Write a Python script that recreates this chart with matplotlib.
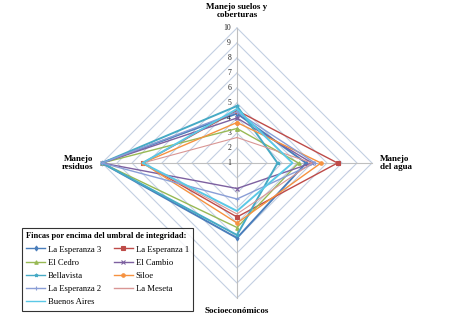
import numpy as np
import matplotlib
matplotlib.use("Agg")
import matplotlib.pyplot as plt

# ejes del radar (en sentido horario desde arriba)
axes_names = ["Manejo suelos y\ncoberturas", "Manejo\ndel agua", "Socioeconómicos", "Manejo\nresiduos"]

fincas = ["La Esperanza 3", "La Esperanza 1", "El Cedro", "El Cambio", "Bellavista",
          "Siloe", "La Esperanza 2", "La Meseta", "Buenos Aires"]

suelos = [4.3, 4.5, 3.3, 4.0, 4.8, 3.7, 4.4, 2.7, 4.6]
agua = [5.6, 7.7, 5.1, 6.0, 3.7, 6.6, 6.2, 6.0, 4.7]
socio = [6.0, 4.6, 5.3, 2.7, 5.8, 5.0, 3.4, 4.4, 4.2]
residuos = [10, 7.3, 10, 10, 10, 7.3, 10, 7.3, 7.3]

levels = [1, 2, 3, 4, 5, 6, 7, 8, 9, 10]

colors = ["#4A7EBB", "#BE4B48", "#98B954", "#7D60A0", "#46AAC5",
          "#F69240", "#8A9ED6", "#D99694", "#5BC8E6"]
markers = ["d", "s", "^", "x", "*", "o", "+", "", ""]
widths = [1.4, 1.0, 1.0, 1.0, 1.4, 1.0, 1.0, 0.8, 1.4]

rmin = 1
angles = np.pi / 2 - np.arange(4) * np.pi / 2


def to_xy(vals):
    r = np.array(list(vals) + [vals[0]], dtype=float) - rmin
    a = np.append(angles, angles[0])
    return r * np.cos(a), r * np.sin(a)


fig = plt.figure(figsize=(4.74, 3.26), dpi=100)
ax = fig.add_axes([87 / 474, 13 / 326, 300 / 474, 300 / 326])
ax.set_xlim(-10, 10)
ax.set_ylim(-10, 10)
ax.axis("off")

# rejilla en rombo
for lv in levels[1:]:
    gx, gy = to_xy([lv] * 4)
    ax.plot(gx, gy, color="#C3CFE2", lw=0.8, zorder=1)
for a in angles:
    ax.plot([0, 9 * np.cos(a)], [0, 9 * np.sin(a)], color="#BFBFBF", lw=0.8, zorder=1)

for lv in levels:
    ax.text(-0.4, lv - rmin, str(lv), ha="right", va="center", fontsize=5.5,
            family="Liberation Serif", color="#222222")

handles = []
for i, name in enumerate(fincas):
    vals = [suelos[i], agua[i], socio[i], residuos[i]]
    x, y = to_xy(vals)
    ln, = ax.plot(x, y, color=colors[i], lw=widths[i], marker=markers[i], ms=2.5,
                  mew=0.8, label=name, zorder=2 + i)
    handles.append(ln)

font = dict(family="Liberation Serif", fontweight="bold", fontsize=6.5)
ax.text(0, 9.6, axes_names[0], ha="center", va="bottom", linespacing=1.0, **font)
ax.text(9.5, 0, axes_names[1], ha="left", va="center", linespacing=1.1, **font)
ax.text(0, -9.6, axes_names[2], ha="center", va="top", **font)
ax.text(-9.6, 0, axes_names[3], ha="right", va="center", linespacing=1.1, **font)

# leyenda por filas
order = [0, 2, 4, 6, 8, 1, 3, 5, 7]
leg = fig.legend([handles[k] for k in order], [fincas[k] for k in order],
                 loc="upper left", bbox_to_anchor=(22 / 474, 1 - 228 / 326), ncol=2,
                 borderaxespad=0,
                 prop={"family": "Liberation Serif", "size": 6.2}, frameon=True,
                 fancybox=False, edgecolor="black", handlelength=2.2, handletextpad=0.3,
                 columnspacing=1.5, labelspacing=0.6, borderpad=0.5,
                 title="Fincas por encima del umbral de integridad:",
                 title_fontproperties={"family": "Liberation Serif", "size": 6, "weight": "bold"})
leg._legend_box.align = "left"
leg.get_frame().set_linewidth(0.8)
for h in leg.legend_handles:
    h.set_linewidth(1.0)

fig.savefig("out.png", dpi=100)
